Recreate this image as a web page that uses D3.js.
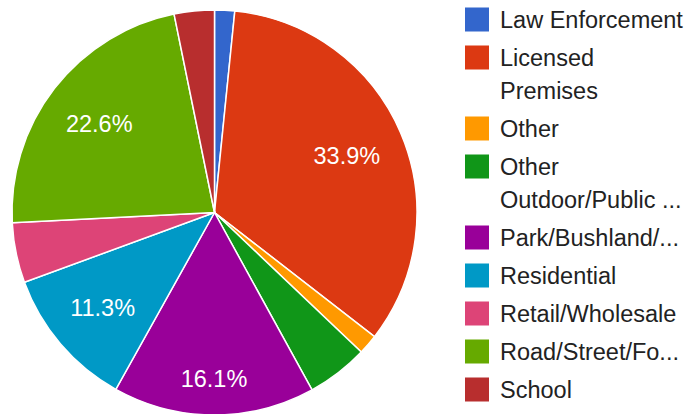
<!DOCTYPE html>
<html lang="en">
  <script src="https://d3js.org/d3.v7.min.js"></script>
  <style>
    body {
      margin: 0;
      background: #fff;
    }
    text {
      font-family: "Liberation Sans", Arial, sans-serif;
    }
  </style>
  <body>
    <svg width="689" height="414"></svg>
    <script>
      // legend labels as shown (\n = line break in the legend)
      const categories = [
        "Law Enforcement",
        "Licensed\nPremises",
        "Other",
        "Other\nOutdoor/Public ...",
        "Park/Bushland/...",
        "Residential",
        "Retail/Wholesale",
        "Road/Street/Fo...",
        "School",
      ];
      // percent share of each slice
      const values = [1.6, 33.9, 1.6, 4.9, 16.1, 11.3, 4.8, 22.6, 3.2];
      const colors = [
        "#3366cc", "#dc3912", "#ff9900", "#109618", "#990099",
        "#0099c6", "#dd4477", "#66aa00", "#b82e2e",
      ];

      const svg = d3.select("svg");
      const cx = 214.5,
        cy = 212.5,
        R = 202.5;
      const fs = 23.5;

      const total = d3.sum(values);
      const pie = d3.pie().sort(null).value((d) => d)(values);
      const arc = d3.arc().innerRadius(0).outerRadius(R);

      const g = svg.append("g").attr("transform", `translate(${cx},${cy})`);

      g.selectAll("path")
        .data(pie)
        .enter()
        .append("path")
        .attr("d", arc)
        .attr("fill", (d, i) => colors[i])
        .attr("stroke", "#fff")
        .attr("stroke-width", 1.5);

      // slice labels: put the far corner of the text box at a fixed radius
      const Rc = R * 0.88;
      pie.forEach((d, i) => {
        const a = (d.startAngle + d.endAngle) / 2;
        const sx = Math.sin(a),
          sy = -Math.cos(a);
        const t = g
          .append("text")
          .attr("fill", "#fff")
          .attr("font-size", fs)
          .attr("text-anchor", "middle")
          .text(d3.format(".1%")(d.value / total));
        const w = t.node().getComputedTextLength();
        const hw = w / 2;
        const hh = fs * 0.38;
        const b = Math.abs(sx) * hw + Math.abs(sy) * hh;
        const c = hw * hw + hh * hh - Rc * Rc;
        const r = -b + Math.sqrt(b * b - c);
        // only label slices wide enough for the text
        if ((d.endAngle - d.startAngle) * r < w * 1.2) t.remove();
        else t.attr("x", r * sx).attr("y", r * sy + fs * 0.358);
      });

      // legend
      const lx = 465,
        y0 = 19.5,
        step = 38,
        lh = 33,
        box = 24;
      let extra = 0;
      categories.forEach((name, i) => {
        const lines = name.split("\n");
        const yc = y0 + i * step + extra * lh;
        svg
          .append("rect")
          .attr("x", lx)
          .attr("y", yc - box / 2)
          .attr("width", box)
          .attr("height", box)
          .attr("fill", colors[i]);
        const t = svg
          .append("text")
          .attr("x", lx + 35)
          .attr("y", yc + fs * 0.358)
          .attr("font-size", fs)
          .attr("fill", "#222");
        lines.forEach((ln, j) => {
          t.append("tspan")
            .attr("x", lx + 35)
            .attr("dy", j === 0 ? 0 : lh)
            .text(ln);
        });
        extra += lines.length - 1;
      });
    </script>
  </body>
</html>
